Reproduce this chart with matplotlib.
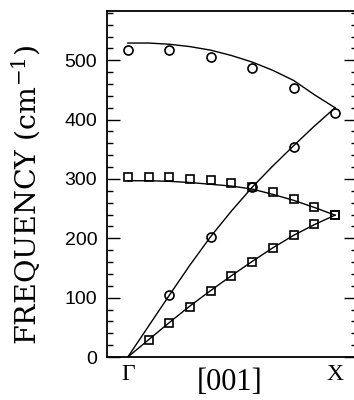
import matplotlib
matplotlib.use("Agg")
import matplotlib.pyplot as plt
import matplotlib.transforms as mtransforms
from matplotlib.ticker import MultipleLocator

# ---- data ----
q_curve = [0.0, 0.1, 0.2, 0.3, 0.4, 0.5, 0.6, 0.7, 0.8, 0.9, 1.0]
lo_curve = [529, 529, 527, 523, 517, 508, 497, 483, 466, 442, 420]
la_curve = [0, 52, 104, 155, 203, 246, 286, 322, 356, 389, 420]
to_curve = [297, 297, 296, 294, 291, 288, 283, 274, 264, 252, 239]
ta_curve = [0, 29, 58, 86, 112, 137, 161, 184, 205, 223, 239]

q_circ_upper = [0.0, 0.2, 0.4, 0.6, 0.8, 1.0]
circ_upper = [518, 518, 505, 487, 453, 411]
q_circ_lower = [0.2, 0.4, 0.6, 0.8]
circ_lower = [104, 202, 286, 354]

q_sq_upper = [0.0, 0.1, 0.2, 0.3, 0.4, 0.5, 0.6, 0.7, 0.8, 0.9, 1.0]
sq_upper = [303, 303, 303, 300, 298, 293, 286, 278, 266, 253, 239]
q_sq_lower = [0.1, 0.2, 0.3, 0.4, 0.5, 0.6, 0.7, 0.8, 0.9, 1.0]
sq_lower = [28, 58, 85, 112, 137, 160, 183, 206, 224, 239]

yticks = [0, 100, 200, 300, 400, 500]
point_labels = ["\u0393", "X"]
point_pos = [0.0, 1.0]
direction_label = "[001]"

plt.rcParams['mathtext.fontset'] = 'dejavuserif'

fig = plt.figure(figsize=(3.54, 4.00), dpi=100)
ax = fig.add_axes([0.302, 0.1075, 1.0085 - 0.302, 0.865])

lw = 1.0
for yc in (lo_curve, la_curve, to_curve, ta_curve):
    ax.plot(q_curve, yc, color='black', lw=lw, solid_joinstyle='round')

ax.plot(q_circ_upper, circ_upper, 'o', ms=6.5, mfc='none', mec='black', mew=1.2, clip_on=False)
ax.plot(q_circ_lower, circ_lower, 'o', ms=6.5, mfc='none', mec='black', mew=1.2, clip_on=False)
ax.plot(q_sq_upper, sq_upper, 's', ms=6, mfc='none', mec='black', mew=1.2, clip_on=False)
ax.plot(q_sq_lower, sq_lower, 's', ms=6, mfc='none', mec='black', mew=1.2, clip_on=False)

ax.set_xlim(-0.101, 1.106)
ax.set_ylim(0, 583)
ax.set_xticks([])
ax.set_yticks(yticks)
ax.yaxis.set_minor_locator(MultipleLocator(20))
ax.tick_params(axis='y', which='both', direction='in', left=True, right=True, width=1.0)
ax.tick_params(axis='y', which='major', length=9.5, pad=7, labelsize=14)
ax.tick_params(axis='y', which='minor', length=4.5)
for lab in ax.get_yticklabels():
    lab.set_family('Liberation Sans')
for sp in ax.spines.values():
    sp.set_linewidth(1.3)

trans = mtransforms.blended_transform_factory(ax.transData, fig.transFigure)
for p, lab in zip(point_pos, point_labels):
    ax.text(p, 1 - 375 / 400, lab, transform=trans, ha='center', va='center',
            family='Liberation Serif', fontsize=17, clip_on=False)
ax.text(0.49, 1 - 382 / 400, direction_label, transform=trans, ha='center', va='center',
        family='Liberation Serif', fontsize=22, clip_on=False)

fig.text(26.5 / 354, 1 - 195 / 400, "FREQUENCY (cm$^{-1}$)", rotation=90,
         ha='center', va='center', family='DejaVu Serif', fontsize=20.5,
         fontweight='light')

fig.savefig("out.png", dpi=100)
